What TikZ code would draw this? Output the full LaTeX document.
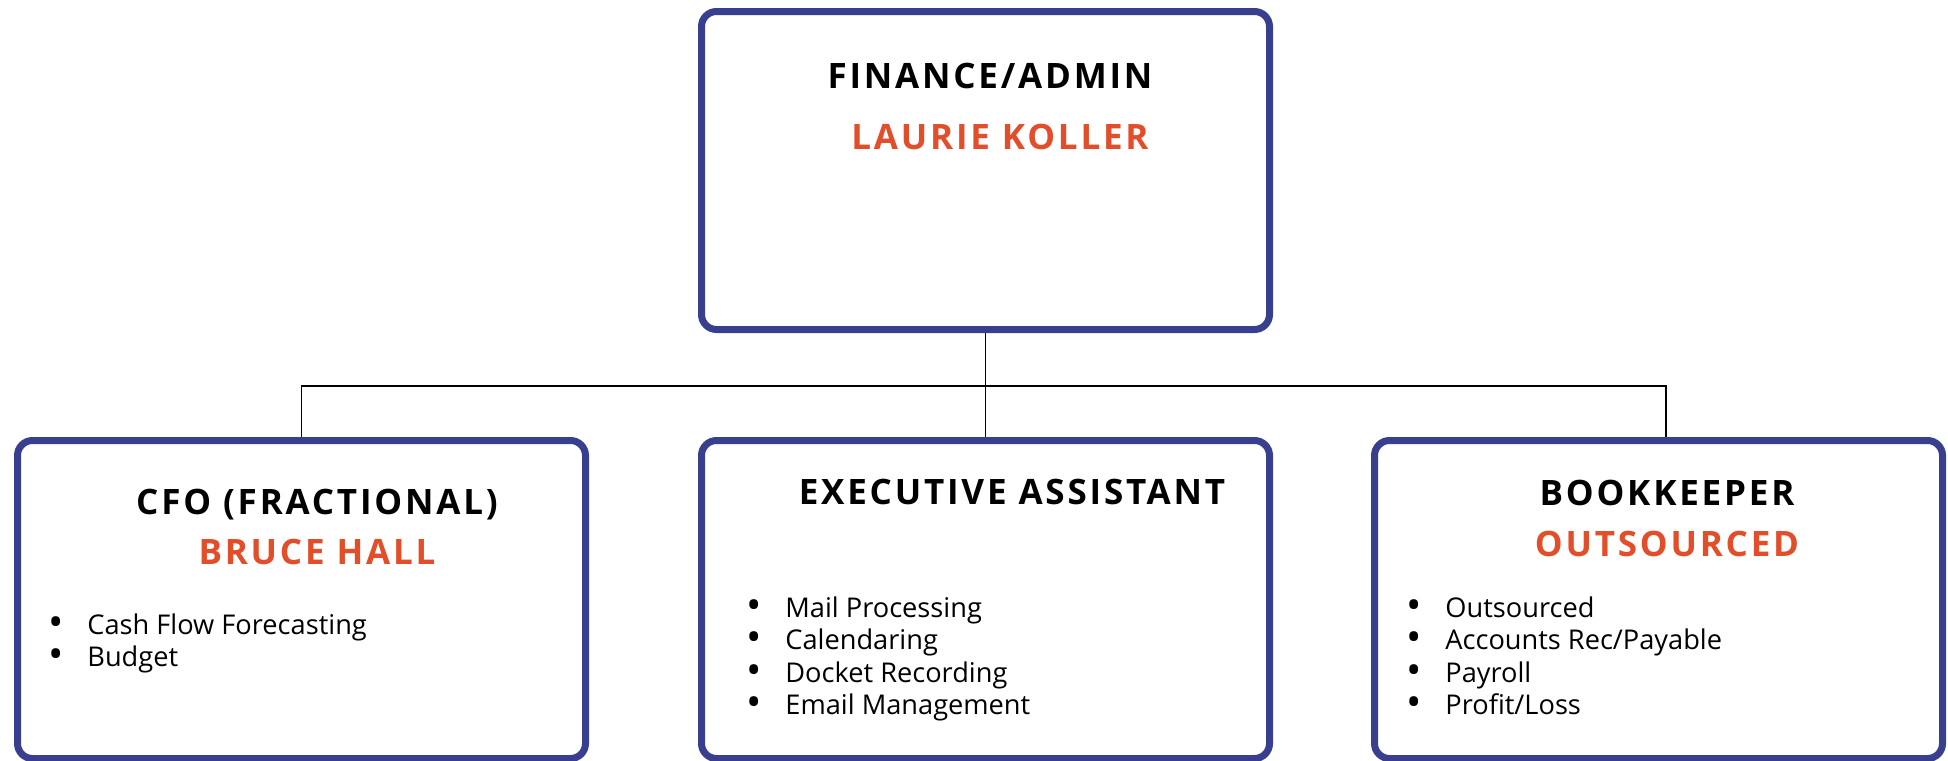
\documentclass[tikz,border=0pt]{standalone}
\usepackage{fontspec}
\setmainfont{Open Sans}
\newfontfamily\headfont[LetterSpace=8]{Open Sans}
\usetikzlibrary{
    positioning
    }

\definecolor{boxblue}{RGB}{56,63,143}
\definecolor{nameorange}{RGB}{227,78,42}

\newcommand{\duty}[1]{\makebox[17.5pt][l]{\hspace{-1.8pt}\raisebox{-0.15ex}{\scalebox{1.5}{\textbullet}}}#1}

\begin{document}
\begin{tikzpicture}[x=0.5pt, y=-0.5pt]
\tikzset{role/.style =
        {
            rectangle,
            rounded corners=7.5pt,
            line width=3.5pt,
            draw=boxblue,
            fill=white,
            minimum width=284pt,
            minimum height=159pt,
            inner sep=0pt
        }
}

\tikzset{roletitle/.style =
        {
            font=\headfont\bfseries\fontsize{17.5}{21}\selectfont,
            anchor=base,
            inner sep=0pt
        }
}

\tikzset{person/.style =
        {
            roletitle,
            text=nameorange
        }
}

\tikzset{duties/.style =
        {
            font=\fontsize{13.6}{16.25}\selectfont,
            align=left,
            anchor=north west,
            inner sep=0pt
        }
}

\tikzset{link/.style = {
            line width=0.75pt,
            black
        }
}
		\useasboundingbox (0,0) rectangle (1948,760);

		\foreach \name / \cx / \cy in
			{head/985.5/170.5,
				cfo/301.5/599.5,
				assist/985.5/599.5,
				keeper/1658.5/599.5}
		\node[role] at (\cx,\cy) (\name) {};

		\coordinate (bus) at (0,386);

		\draw [link] (head.south) -- (head.south |- bus) coordinate (hub);
		\draw [link] (cfo.north) |- (hub) -| ([xshift=3.75pt]keeper.north);
		\draw [link] (hub) -- (assist.north);

		\node[roletitle] at (990,88.5) (head-title) {FINANCE/ADMIN};
		\node[person] at (1000,149.5) (head-name) {LAURIE KOLLER};

		\node[roletitle] at (317,514.5) (cfo-title) {CFO (FRACTIONAL)};
		\node[person] at (317,564.5) (cfo-name) {BRUCE HALL};
		\node[duties] at (52,613) (cfo-list)
			{\duty{Cash Flow Forecasting}\\ \duty{Budget}};

		\node[roletitle] at (1012,504.5) (assist-title) {EXECUTIVE ASSISTANT};
		\node[duties] at (750,596) (assist-list)
			{\duty{Mail Processing}\\ \duty{Calendaring}\\ \duty{Docket Recording}\\ \duty{Email Management}};

		\node[roletitle] at (1667,505.5) (keeper-title) {BOOKKEEPER};
		\node[person] at (1667,556.5) (keeper-name) {OUTSOURCED};
		\node[duties] at (1410,596) (keeper-list)
			{\duty{Outsourced}\\ \duty{Accounts Rec/Payable}\\ \duty{Payroll}\\ \duty{Profit/Loss}};

	\end{tikzpicture}
\end{document}
